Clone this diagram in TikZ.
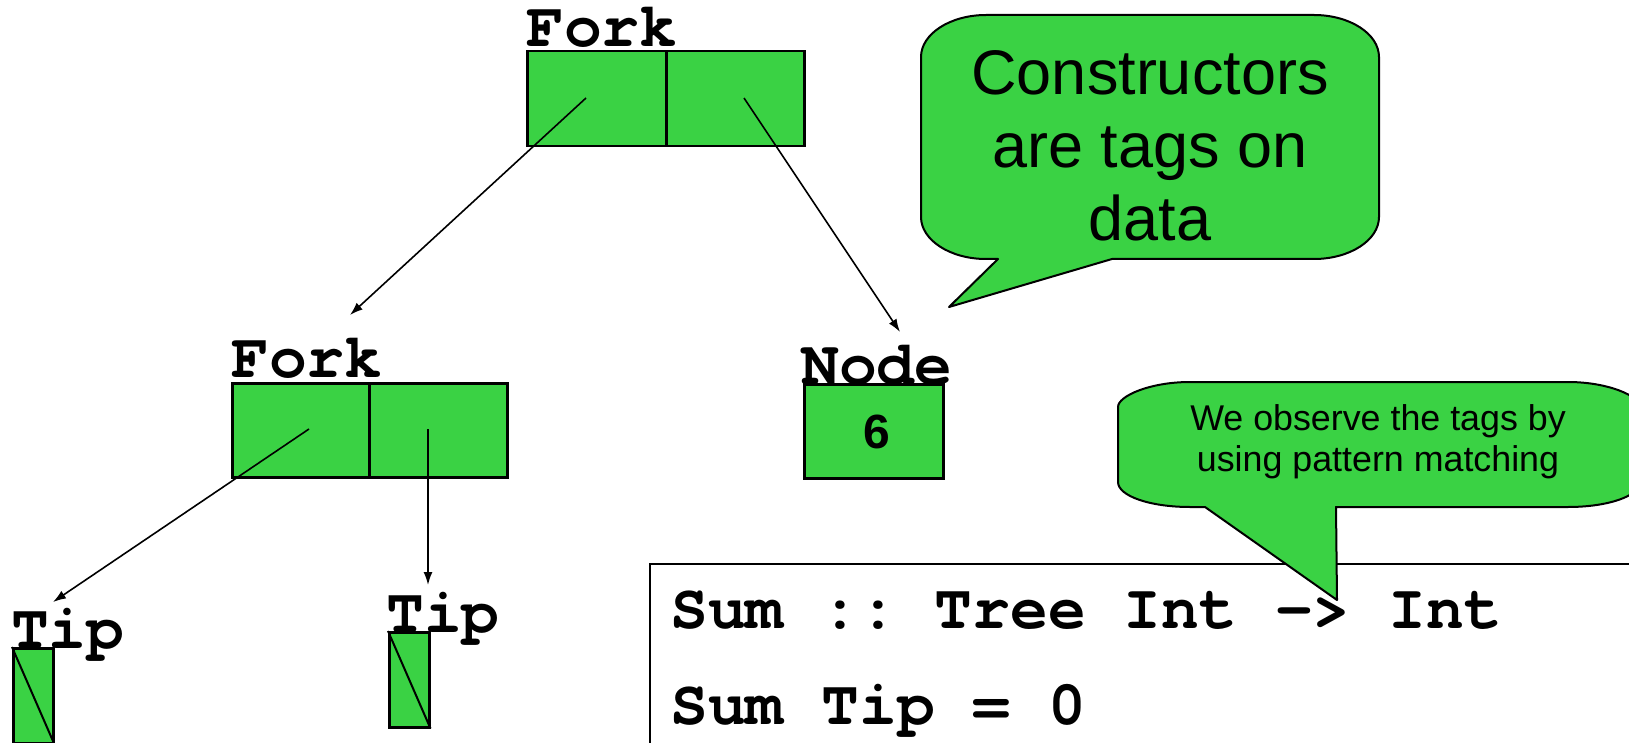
\documentclass[tikz,border=0pt]{standalone}
\usepackage{fontspec}
\setmainfont{Liberation Sans}
\newfontfamily\cour{TeX Gyre Cursor}
\usetikzlibrary{arrows.meta}
\definecolor{boxgreen}{RGB}{58,210,68}
\frenchspacing
\tikzset{
  cell/.style={draw=black, line width=2.5pt, fill=boxgreen, inner sep=0pt, anchor=north west},
  lbl/.style={font=\cour\bfseries\fontsize{63}{70}\selectfont, inner sep=0pt, anchor=base west},
  arr/.style={line width=1.6pt, -{Latex[length=13pt,width=9pt]}},
  bubble/.style={draw=black, line width=2pt, fill=boxgreen, line join=round},
}
\begin{document}
\begin{tikzpicture}[x=1pt,y=-1pt]
\useasboundingbox (0,0) rectangle (1629,743);
\clip (0,0) rectangle (1629,743);

% top Fork
\node[cell, minimum width=139pt, minimum height=95pt] (f1l) at (526,50) {};
\node[cell, minimum width=138pt, minimum height=95pt] (f1r) at (665,50) {};
% lower Fork
\node[cell, minimum width=137pt, minimum height=94pt] (f2l) at (231,382) {};
\node[cell, minimum width=138pt, minimum height=94pt] (f2r) at (368,382) {};
% Node
\node[cell, minimum width=139pt, minimum height=94pt] (nd) at (803,383) {};
\node[font=\bfseries\fontsize{48}{50}\selectfont, inner sep=0pt] (six) at (877,432) {6};
% Tips
\node[cell, minimum width=40pt, minimum height=95pt] (tp1) at (12,647) {};
\draw[line width=2pt] (tp1.north west) -- (tp1.south east);
\node[cell, minimum width=40pt, minimum height=95pt] (tp2) at (388,631) {};
\draw[line width=2pt] (tp2.north west) -- (tp2.south east);

% labels
\node[lbl] (lf1) at (526,47) {Fork};
\node[lbl] (lf2) at (231,377) {Fork};
\node[lbl] (lnd) at (801,384) {Node};
\node[lbl] (lt1) at (11,648) {Tip};
\node[lbl] (lt2) at (386,632) {Tip};

% connectors
\coordinate (s1) at (586,98);  \coordinate (e1) at (350,315);
\coordinate (s2) at (744,98);  \coordinate (e2) at (900,332);
\coordinate (s3) at (309,429); \coordinate (e3) at (53,602);
\coordinate (s4) at (428,429); \coordinate (e4) at (428,585);
\draw[arr] (s1) -- (e1);
\draw[arr] (s2) -- (e2);
\draw[arr] (s3) -- (e3);
\draw[arr] (s4) -- (e4);

% code box
\node[draw=black, line width=2pt, inner sep=0pt, anchor=north west, minimum width=1100pt, minimum height=300pt] (code) at (649,563) {};
\node[lbl] (c1) at (670,628) {Sum :: Tree Int -> Int};
\node[lbl] (c2) at (670,724) {Sum Tip = 0};

% bubble 1
\draw[bubble] (1112,259) -- (1314,259) .. controls (1350,259) and (1379,240) .. (1379,217)
  -- (1379,57) .. controls (1379,34) and (1350,15) .. (1314,15)
  -- (986,15) .. controls (950,15) and (921,34) .. (921,57)
  -- (921,217) .. controls (921,240) and (950,259) .. (986,259)
  -- (998,259) -- (949,307) -- cycle;
\node[align=center, inner sep=0pt, font=\fontsize{63}{73}\selectfont] (b1) at (1150,146) {Constructors\\are tags on\\data};

% bubble 2
\draw[bubble] (1336,507) -- (1568,507) .. controls (1608,507) and (1640,496) .. (1640,482)
  -- (1640,407) .. controls (1640,396) and (1608,382) .. (1568,382)
  -- (1190,382) .. controls (1150,382) and (1118,396) .. (1118,407)
  -- (1118,482) .. controls (1118,496) and (1150,507) .. (1190,507)
  -- (1205,507) -- (1337,600) -- cycle;
\node[align=center, inner sep=0pt, font=\fontsize{35.8}{41}\selectfont] (b2) at (1378,442) {We observe the tags by\\using pattern matching};
\end{tikzpicture}
\end{document}
